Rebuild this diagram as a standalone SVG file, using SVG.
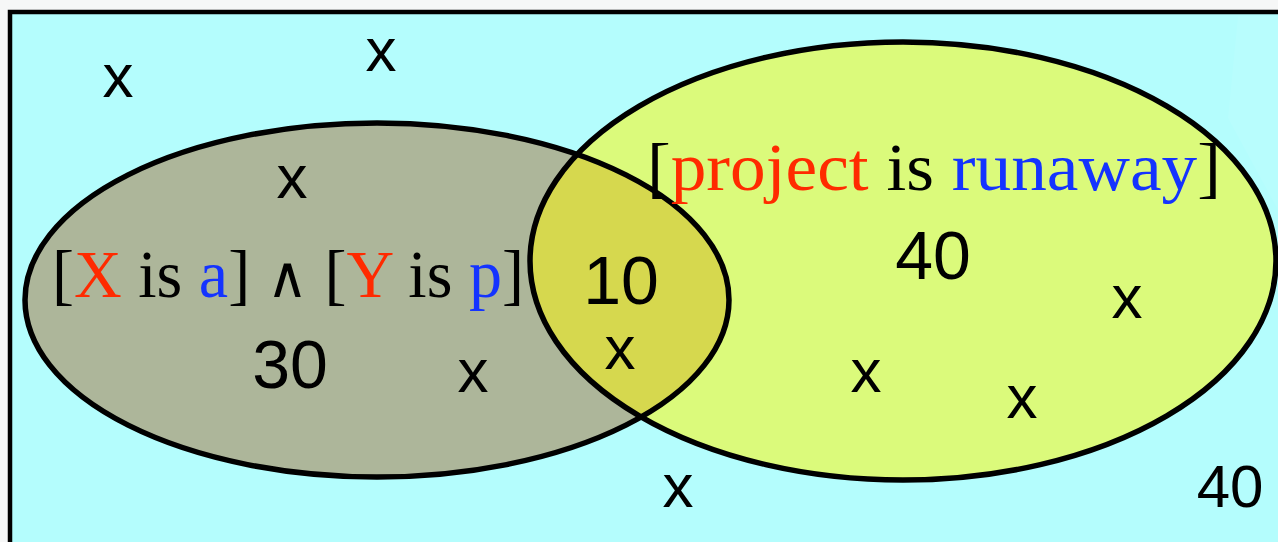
<svg xmlns="http://www.w3.org/2000/svg" width="1278" height="542" viewBox="0 0 1278 542">
  <style>
    .mark { font-family: "Liberation Sans", Arial, sans-serif; font-size: 62px; fill: #000; text-anchor: middle; }
    .num { font-family: "Liberation Sans", Arial, sans-serif; font-size: 68px; fill: #000; text-anchor: middle; }
    .numsm { font-family: "Liberation Sans", Arial, sans-serif; font-size: 60px; fill: #000; text-anchor: middle; }
    .lbl { font-family: "Liberation Serif", "Times New Roman", serif; font-size: 68px; fill: #000; }
    .red { fill: #ff2a00; }
    .blue { fill: #1433ff; }
    .outline { fill: none; stroke: #000; stroke-width: 5.5; }
  </style>
  <defs>
    <clipPath id="clipLeft">
      <ellipse cx="377" cy="300" rx="352" ry="177"/>
    </clipPath>
  </defs>
  <rect x="0" y="0" width="1278" height="542" fill="#f6f7f7"/>
  <g id="universe">
    <rect x="10" y="12" width="1300" height="600" fill="#b4fdfd" stroke="#000" stroke-width="4.5"/>
    <polygon points="1238,16 1278,16 1278,210 1228,118" fill="#ffffff" opacity="0.06"/>
  </g>
  <g id="set-left">
    <ellipse cx="377" cy="300" rx="352" ry="177" fill="#adb69a"/>
  </g>
  <g id="set-right">
    <ellipse cx="903" cy="261" rx="373" ry="219" fill="#dbfa7b"/>
  </g>
  <g id="intersection">
    <ellipse cx="903" cy="261" rx="373" ry="219" fill="#d6d84e" clip-path="url(#clipLeft)"/>
  </g>
  <g id="outlines">
    <ellipse class="outline" cx="377" cy="300" rx="352" ry="177"/>
    <ellipse class="outline" cx="903" cy="261" rx="373" ry="219"/>
  </g>
  <g id="labels">
    <text class="lbl" x="52" y="297" textLength="472" lengthAdjust="spacingAndGlyphs">[<tspan class="red">X</tspan> is <tspan class="blue">a</tspan>] <tspan font-family="DejaVu Sans, sans-serif" font-size="58">∧</tspan> [<tspan class="red">Y</tspan> is <tspan class="blue">p</tspan>]</text>
    <text class="lbl" x="647" y="190" textLength="574" lengthAdjust="spacingAndGlyphs">[<tspan class="red">project</tspan> is <tspan class="blue">runaway</tspan>]</text>
  </g>
  <g id="counts">
    <text class="num" x="290" y="388">30</text>
    <text class="num" x="621" y="304">10</text>
    <text class="num" x="933" y="279">40</text>
    <text class="numsm" x="1230" y="507">40</text>
  </g>
  <g id="elements">
    <text class="mark" x="118" y="97">x</text>
    <text class="mark" x="381" y="71">x</text>
    <text class="mark" x="292" y="198">x</text>
    <text class="mark" x="473" y="392">x</text>
    <text class="mark" x="620" y="369">x</text>
    <text class="mark" x="866" y="392">x</text>
    <text class="mark" x="1127" y="318">x</text>
    <text class="mark" x="1022" y="418">x</text>
    <text class="mark" x="678" y="507">x</text>
  </g>
</svg>
